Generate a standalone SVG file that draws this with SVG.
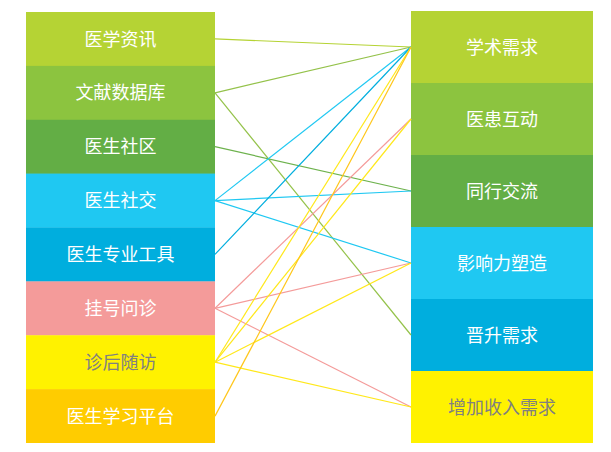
<svg xmlns="http://www.w3.org/2000/svg" width="611" height="452" viewBox="0 0 611 452">
<style>
text{font-family:"Noto Sans CJK SC","Noto Sans",sans-serif;font-size:18px;text-anchor:middle;fill:#ffffff}
text.dark{fill:#808080}
.c line{stroke-width:1.2;fill:none}
</style>
<rect width="611" height="452" fill="#ffffff"/>
<g id="left-nodes">
<g id="n-yixuezixun"><rect x="26" y="12" width="189" height="54.2" fill="#b5d334"/><text x="120.5" y="45.5">医学资讯</text></g>
<g id="n-wenxian"><rect x="26" y="65.9" width="189" height="54.2" fill="#8cc43f"/><text x="120.5" y="99.3">文献数据库</text></g>
<g id="n-shequ"><rect x="26" y="119.75" width="189" height="54.2" fill="#63ae45"/><text x="120.5" y="153.2">医生社区</text></g>
<g id="n-shejiao"><rect x="26" y="173.6" width="189" height="54.2" fill="#1fc8f2"/><text x="120.5" y="207.1">医生社交</text></g>
<g id="n-gongju"><rect x="26" y="227.5" width="189" height="54.2" fill="#00aede"/><text x="120.5" y="260.9">医生专业工具</text></g>
<g id="n-guahao"><rect x="26" y="281.4" width="189" height="54.2" fill="#f49b9a"/><text x="120.5" y="314.8">挂号问诊</text></g>
<g id="n-zhenhou"><rect x="26" y="335.25" width="189" height="54.2" fill="#fff200"/><text class="dark" x="120.5" y="368.7">诊后随访</text></g>
<g id="n-xuexi"><rect x="26" y="389.1" width="189" height="53.9" fill="#ffcc00"/><text x="120.5" y="422.6">医生学习平台</text></g>
</g>
<g id="right-nodes">
<g id="n-xueshu"><rect x="411" y="11" width="182" height="72.2" fill="#b5d334"/><text x="502" y="53.5">学术需求</text></g>
<g id="n-yihuan"><rect x="411" y="83" width="182" height="72.2" fill="#8cc43f"/><text x="502" y="125.5">医患互动</text></g>
<g id="n-tonghang"><rect x="411" y="155" width="182" height="72.2" fill="#63ae45"/><text x="502" y="197.5">同行交流</text></g>
<g id="n-yingxiang"><rect x="411" y="227" width="182" height="72.2" fill="#1fc8f2"/><text x="502" y="269.5">影响力塑造</text></g>
<g id="n-jinsheng"><rect x="411" y="299" width="182" height="72.2" fill="#00aede"/><text x="502" y="341.5">晋升需求</text></g>
<g id="n-shouru"><rect x="411" y="371" width="182" height="72" fill="#fff200"/><text class="dark" x="502" y="413.5">增加收入需求</text></g>
</g>
<g id="connectors" class="c">
<line x1="215" y1="38.9" x2="411" y2="47" stroke="#b5d334"/>
<line x1="215" y1="92.8" x2="411" y2="47" stroke="#94c24a"/>
<line x1="215" y1="92.8" x2="411" y2="335" stroke="#94c24a"/>
<line x1="215" y1="146.7" x2="411" y2="191" stroke="#6db24d"/>
<line x1="215" y1="200.6" x2="411" y2="47" stroke="#1fc8f2"/>
<line x1="215" y1="200.6" x2="411" y2="191" stroke="#1fc8f2"/>
<line x1="215" y1="200.6" x2="411" y2="263" stroke="#1fc8f2"/>
<line x1="215" y1="254.4" x2="411" y2="47" stroke="#00aede"/>
<line x1="215" y1="308.3" x2="411" y2="119" stroke="#f49b9a"/>
<line x1="215" y1="308.3" x2="411" y2="263" stroke="#f49b9a"/>
<line x1="215" y1="308.3" x2="411" y2="407" stroke="#f49b9a"/>
<line x1="215" y1="362.2" x2="411" y2="47" stroke="#ffe81a"/>
<line x1="215" y1="362.2" x2="411" y2="119" stroke="#ffe81a"/>
<line x1="215" y1="362.2" x2="411" y2="263" stroke="#ffe81a"/>
<line x1="215" y1="362.2" x2="411" y2="407" stroke="#ffe81a"/>
<line x1="215" y1="416.1" x2="411" y2="47" stroke="#ffc61a"/>
</g>
</svg>
